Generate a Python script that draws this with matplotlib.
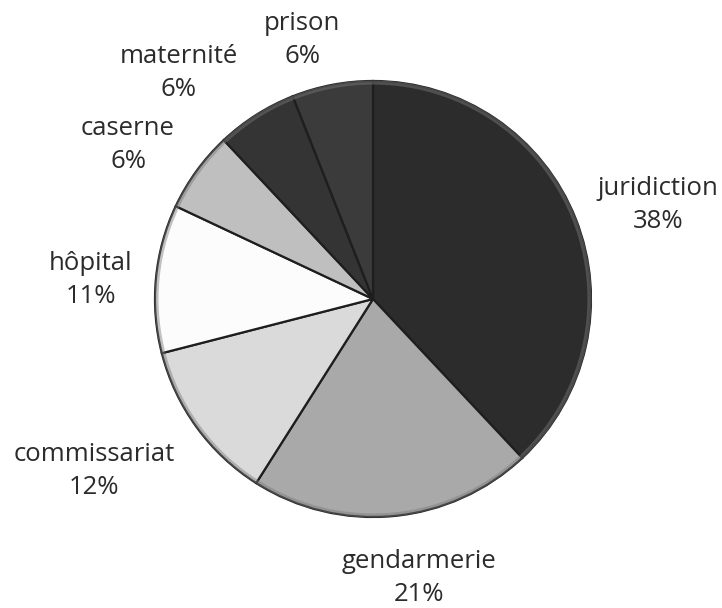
import numpy as np
import matplotlib.pyplot as plt
from matplotlib.patches import Circle

# parts par lieu, dans le sens horaire depuis le haut
lieux = ["juridiction", "gendarmerie", "commissariat", "hôpital",
         "caserne", "maternité", "prison"]
parts = [38, 21, 12, 11, 6, 6, 6]
couleurs = ["#2c2c2c", "#a9a9a9", "#dadada", "#fcfcfc",
            "#bfbfbf", "#343434", "#3b3b3b"]

# centre des étiquettes (x, y en pixels depuis le coin haut gauche)
pos_etiquettes = [(658, 205), (419, 578), (94, 471), (91, 280),
                  (128, 145), (179, 73), (302, 40)]

W, H = 722, 608
fig = plt.figure(figsize=(W / 100, H / 100), dpi=100)
ax = fig.add_axes([0, 0, 1, 1])

cx, cy, r = 373, H - 299, 218
ax.pie(parts, colors=couleurs, startangle=90, counterclock=False,
       center=(cx, cy), radius=r, frame=True,
       wedgeprops=dict(edgecolor="#1e1e1e", linewidth=1.6))
# léger relief sur le pourtour
ax.add_patch(Circle((cx, cy), r - 1.5, fill=False, edgecolor="#7a7a7a",
                    linewidth=3, alpha=0.45))
ax.set_xlim(0, W)
ax.set_ylim(0, H)
ax.set_aspect("equal")
ax.axis("off")

for nom, p, (x, y) in zip(lieux, parts, pos_etiquettes):
    ax.text(x, H - y, f"{nom}\n{p}%", ha="center", va="center",
            fontsize=18.5, family="Open Sans", color="#2b2b2b",
            linespacing=1.43)

fig.savefig("out.png", dpi=100)
